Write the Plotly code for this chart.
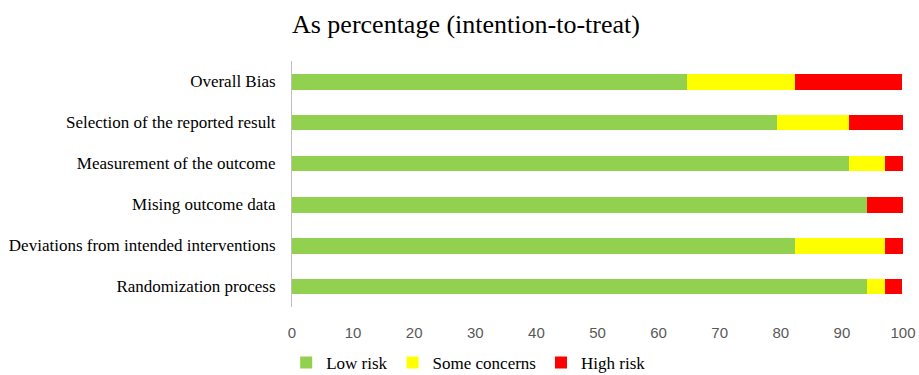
import plotly.graph_objects as go

# Risk-of-bias domains, listed top to bottom
domains = [
    "Overall Bias",
    "Selection of the reported result",
    "Measurement of the outcome",
    "Mising outcome data",
    "Deviations from intended interventions",
    "Randomization process",
]

# Percentage of studies per judgement
low_risk = [64.7, 79.4, 91.2, 94.1, 82.4, 94.1]
some_concerns = [17.6, 11.8, 5.9, 0.0, 14.7, 2.9]
high_risk = [17.6, 8.8, 2.9, 5.9, 2.9, 2.9]

x_ticks = [0, 10, 20, 30, 40, 50, 60, 70, 80, 90, 100]

series = [
    ("Low risk", low_risk, "#92D050"),
    ("Some concerns", some_concerns, "#FFFF00"),
    ("High risk", high_risk, "#FF0000"),
]

fig = go.Figure()
for name, vals, color in series:
    fig.add_trace(go.Bar(
        y=domains, x=vals, name=name, orientation="h",
        marker=dict(color=color, line=dict(width=0)),
    ))

serif = "Liberation Serif, Times New Roman, serif"

fig.update_layout(
    barmode="stack",
    bargap=0.61,
    width=919, height=375,
    margin=dict(l=292, r=16, t=61, b=68, autoexpand=False),
    plot_bgcolor="white", paper_bgcolor="white",
    title=dict(
        text="As percentage (intention-to-treat)",
        x=0.507, xanchor="center", y=0.935, yanchor="middle",
        font=dict(family=serif, size=26, color="#000000"),
    ),
    xaxis=dict(
        range=[0, 100], tickvals=x_ticks, showgrid=False, zeroline=False,
        showline=False, ticks="", ticklabelstandoff=15, automargin=False,
        tickfont=dict(family="Liberation Sans, Arial, sans-serif", size=15, color="#595959"),
    ),
    yaxis=dict(
        autorange="reversed", showgrid=False, zeroline=False,
        showline=True, linecolor="#BFBFBF", linewidth=1,
        ticks="", ticklabelstandoff=12, automargin=False,
        tickfont=dict(family=serif, size=17, color="#000000"),
    ),
    legend=dict(
        orientation="h", xref="container", yref="container",
        x=0.51, xanchor="center", y=0.032, yanchor="middle",
        font=dict(family=serif, size=17, color="#000000"),
        itemwidth=30, traceorder="normal", tracegroupgap=0,
    ),
    showlegend=True,
)

fig.write_html("out.html")
